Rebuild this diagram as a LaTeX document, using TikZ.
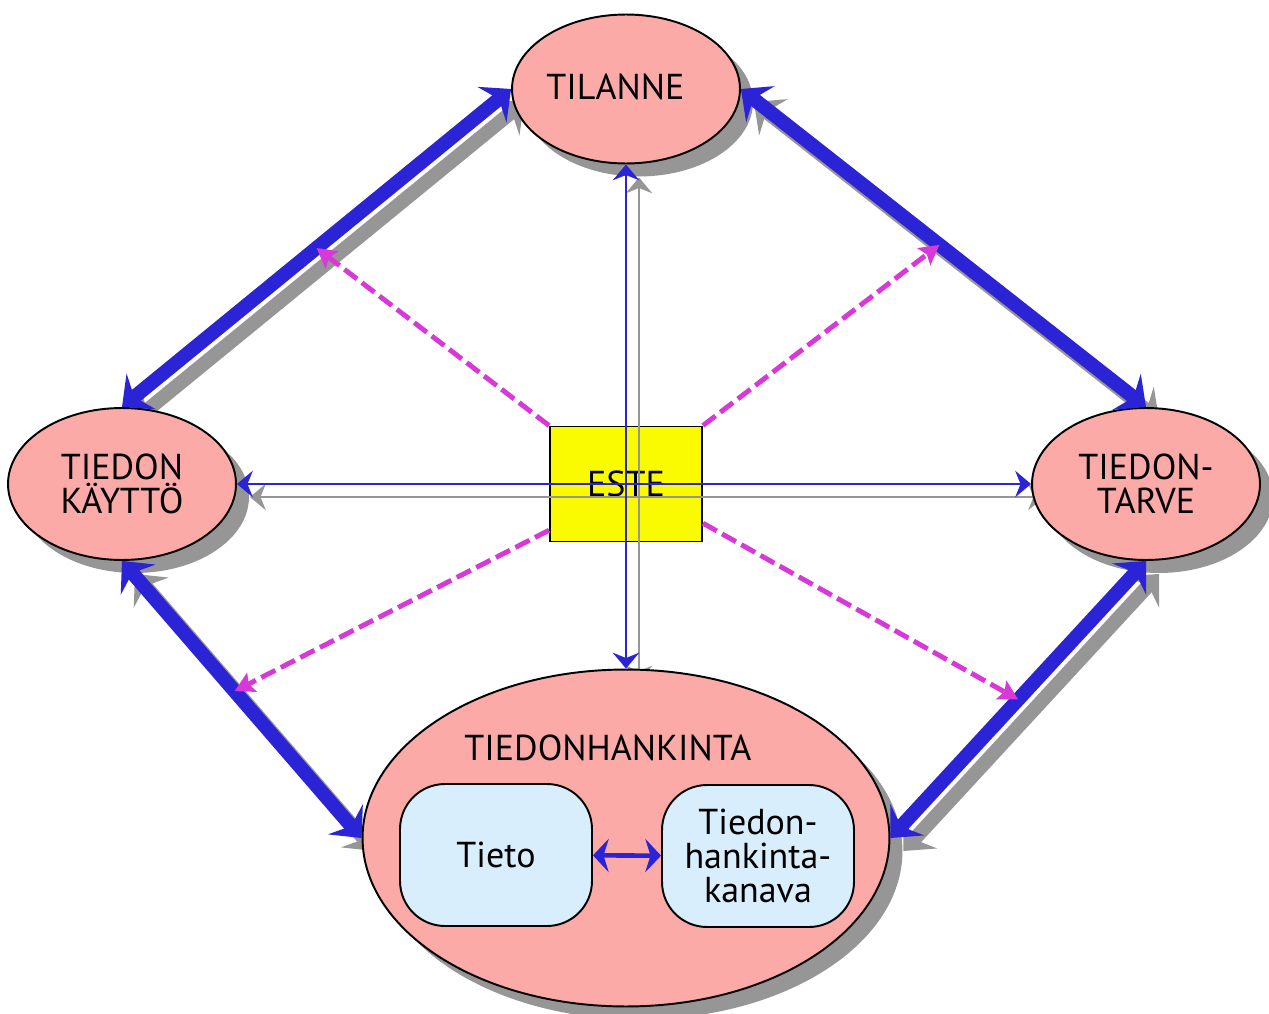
\documentclass[tikz,border=0pt]{standalone}
\usepackage{fontspec}
\setmainfont{PT Sans}
\usepackage{tikz}
\usetikzlibrary{shapes.geometric,arrows.meta,shadows}
\definecolor{pinkfill}{RGB}{251,170,168}
\definecolor{arrowblue}{RGB}{42,36,214}
\definecolor{shadegray}{RGB}{150,150,150}
\definecolor{esteyellow}{RGB}{250,250,0}
\definecolor{boxblue}{RGB}{217,238,252}
\definecolor{dashmagenta}{RGB}{216,56,216}
\pgfdeclarelayer{back}
\pgfsetlayers{back,main}
\tikzstyle{oval}=[ellipse, draw=black, line width=1.1pt, fill=pinkfill, inner sep=0pt, align=center, drop shadow={shadow xshift=.26cm, shadow yshift=-.26cm, fill=shadegray, opacity=1}]
\tikzstyle{estebox}=[rectangle, draw=black, line width=1.1pt, fill=esteyellow, minimum width=3.04cm, minimum height=2.3cm]
\tikzstyle{inbox}=[rectangle, rounded corners=.9cm, draw=black, line width=1.1pt, fill=boxblue, minimum width=3.84cm, minimum height=2.84cm, align=center]
\tikzstyle{fat}=[line width=8pt, {Stealth[length=14pt,width=26pt,inset=5pt]}-{Stealth[length=14pt,width=26pt,inset=5pt]}]
\tikzstyle{slim}=[line width=1.3pt, {Stealth[length=9pt,width=15pt,inset=3pt]}-{Stealth[length=9pt,width=15pt,inset=3pt]}]
\tikzstyle{hint}=[dashmagenta, line width=2.8pt, dash pattern=on 9pt off 3.5pt, -{Stealth[length=11pt,width=12pt,inset=2pt]}]
\tikzstyle{ghost}=[shadegray, transform canvas={shift={(.26cm,-.26cm)}}]

\begin{document}
\begin{tikzpicture}[x=.02cm, y=-.02cm, every node/.style={font=\fontsize{20.5pt}{19.5pt}\selectfont}]
                                        \useasboundingbox (0,0) rectangle (1269,1014);
                                        
                                        \node[oval, minimum width=4.56cm, minimum height=2.98cm] (tilanne) at (626,89) {\hspace*{-12pt}\raisebox{3pt}{TILANNE}};
                                        \node[oval, minimum width=4.56cm, minimum height=3.04cm] (kaytto) at (122,484) {TIEDON\\KÄYTTÖ};
                                        \node[oval, minimum width=4.56cm, minimum height=3.04cm] (tarve) at (1146,484) {TIEDON-\\TARVE};
                                        \node[oval, minimum width=10.54cm, minimum height=6.74cm] (hankinta) at (626,838) {};
                                        
                                        \node (hankintatxt) at (608,748) {TIEDONHANKINTA};
                                        \node[inbox] (tieto) at (496,855) {Tieto};
                                        \node[inbox] (kanava) at (758,856) {Tiedon-\\hankinta-\\kanava};
                                        
                                        \begin{pgfonlayer}{back}
                                        \fill[white] (0,0) rectangle (1269,1014);
                                        \node[estebox] (este) at (626,484) {ESTE};
                                        \draw[fat, ghost] (kaytto.north) -- (tilanne.west);
                                        \draw[fat, ghost] (tilanne.east) -- (tarve.north);
                                        \draw[fat, ghost] (tarve.south) -- (hankinta.east);
                                        \draw[fat, ghost] (hankinta.west) -- (kaytto.south);
                                        \draw[slim, ghost] (tilanne.south) -- (hankinta.north);
                                        \draw[slim, ghost] (kaytto.east) -- (tarve.west);
                                        \end{pgfonlayer}
                                        
                                        \draw[slim, arrowblue] (tilanne.south) -- (hankinta.north);
                                        \draw[slim, arrowblue] (kaytto.east) -- (tarve.west);
                                        
                                        \draw[fat, arrowblue] (kaytto.north) -- coordinate[pos=.5] (nwpt) (tilanne.west);
                                        \draw[fat, arrowblue] (tilanne.east) -- coordinate[pos=.49] (nept) (tarve.north);
                                        \draw[fat, arrowblue] (tarve.south) -- coordinate[pos=.5] (sept) (hankinta.east);
                                        \draw[fat, arrowblue] (hankinta.west) -- coordinate[pos=.53] (swpt) (kaytto.south);
                                        
                                        \draw[hint] (este.north west) -- (nwpt);
                                        \draw[hint] (este.north east) -- (nept);
                                        \draw[hint] (este.211) -- (swpt);
                                        \draw[hint] (este.-27) -- (sept);
                                        
                                        \draw[arrowblue, line width=2.6pt, {Stealth[length=9pt,width=19pt,inset=3pt]}-{Stealth[length=9pt,width=19pt,inset=3pt]}] (tieto) -- (kanava);
                                    \end{tikzpicture}
\end{document}
